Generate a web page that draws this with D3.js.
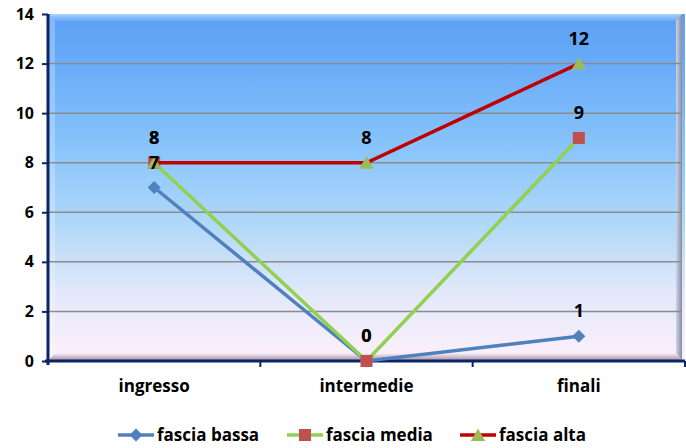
<!DOCTYPE html>
<html><head><meta charset="utf-8">
<script src="https://cdn.jsdelivr.net/npm/d3@7/dist/d3.min.js"></script>
<style>body{margin:0;background:#fff}svg{display:block}text{font-family:"Open Sans",sans-serif;font-weight:bold}</style>
</head><body><svg id="c" width="686" height="448"></svg>
<script>
const categories = ["ingresso","intermedie","finali"];
const seriesNames = ["fascia bassa","fascia media","fascia alta"];
const bassa = [7,0,1];
const media = [8,0,9];
const alta = [8,8,12];
const yTicks = [0,2,4,6,8,10,12,14];

const series = [
  {name: seriesNames[0], values: bassa, line:"#4f81bd", marker:"diamond", mfill:"#4f81bd"},
  {name: seriesNames[1], values: media, line:"#92d050", marker:"square", mfill:"#c0504d"},
  {name: seriesNames[2], values: alta, line:"#c00000", marker:"triangle", mfill:"#9bbb59"}
];

const svg = d3.select("#c");
const L=48, R=685, T=14, B=361;
const x = d3.scaleBand().domain(categories).range([L,R]);
const y = d3.scaleLinear().domain([0,14]).range([B,T]);

const defs = svg.append("defs");
const g1 = defs.append("linearGradient").attr("id","bg").attr("x1",0).attr("y1",0).attr("x2",0).attr("y2",1);
[[0,"#5e9ff2"],[0.12,"#66a9f8"],[0.4,"#8ac6fb"],[0.62,"#b4d9f8"],[0.8,"#e2e8fa"],[1,"#fdf0fb"]].forEach(s=>g1.append("stop").attr("offset",s[0]).attr("stop-color",s[1]));
const gb = defs.append("linearGradient").attr("id","bb").attr("x1",0).attr("y1",0).attr("x2",0).attr("y2",1);
[[0,"#fdf0fb"],[1,"#9c8a9c"]].forEach(s=>gb.append("stop").attr("offset",s[0]).attr("stop-color",s[1]));
const gr = defs.append("linearGradient").attr("id","br").attr("x1",0).attr("y1",0).attr("x2",1).attr("y2",0);
[[0,"#c8d4ee"],[1,"#8a8c9c"]].forEach(s=>gr.append("stop").attr("offset",s[0]).attr("stop-color",s[1]));
const gt = defs.append("linearGradient").attr("id","bt").attr("x1",0).attr("y1",0).attr("x2",0).attr("y2",1);
[[0,"#a8d2fb"],[1,"#68aaf6"]].forEach(s=>gt.append("stop").attr("offset",s[0]).attr("stop-color",s[1]));

svg.append("rect").attr("x",L).attr("y",T).attr("width",R-L).attr("height",B-T).attr("fill","url(#bg)");
// bevel
svg.append("path").attr("d",`M${L},${T}L${R-3},${T}L${R-9},${T+7}L${L+7},${T+7}Z`).attr("fill","url(#bt)");
svg.append("path").attr("d",`M${L},${B}L${R-3},${B}L${R-9},${B-8}L${L+7},${B-8}Z`).attr("fill","url(#bb)");
svg.append("path").attr("d",`M${R-3},${T}L${R-3},${B}L${R-9},${B-8}L${R-9},${T+7}Z`).attr("fill","url(#br)");
svg.append("path").attr("d",`M${L},${T}L${L+7},${T+7}L${L+7},${B-8}L${L},${B}Z`).attr("fill","#ffffff").attr("opacity",0.25);

// gridlines
svg.append("g").selectAll("line").data(yTicks.filter(d=>d>0&&d<14)).join("line")
  .attr("x1",L).attr("x2",R-4).attr("y1",d=>y(d)).attr("y2",d=>y(d))
  .attr("stroke","#8c8c8c").attr("stroke-width",1.5);

// axes
const yAxis = d3.axisLeft(y).tickValues(yTicks).tickSize(6).tickPadding(8);
const ya = svg.append("g").attr("transform",`translate(${L},0)`).call(yAxis);
ya.select(".domain").attr("stroke","#0b2466").attr("stroke-width",3).attr("d",`M0,${T}V${B+4}`);
ya.selectAll(".tick line").attr("stroke","#0b2466").attr("stroke-width",2);
ya.selectAll(".tick text").attr("font-size",16).attr("fill","#000").attr("font-family","'Open Sans',sans-serif").attr("font-weight","bold");

const xa = svg.append("g").attr("transform",`translate(0,${B})`);
xa.append("line").attr("x1",L-3).attr("x2",R).attr("y1",0).attr("y2",0).attr("stroke","#0b2466").attr("stroke-width",3);
const bounds = categories.map(c=>x(c)).concat([x(categories[categories.length-1])+x.bandwidth()]);
xa.selectAll("line.t").data(bounds.slice(1)).join("line").attr("class","t")
  .attr("x1",d=>d).attr("x2",d=>d).attr("y1",0).attr("y2",6).attr("stroke","#0b2466").attr("stroke-width",2);
xa.selectAll("text").data(categories).join("text")
  .attr("x",d=>x(d)+x.bandwidth()/2).attr("y",31).attr("text-anchor","middle")
  .attr("font-size",17).attr("fill","#000").text(d=>d);

const cx = c=>x(c)+x.bandwidth()/2;
const line = d3.line().x((d,i)=>cx(categories[i])).y(d=>y(d));

function marker(sel, type, fill, sz){
  if(type==="diamond") sel.append("path").attr("d",`M0,${-sz/2}L${sz/2},0L0,${sz/2}L${-sz/2},0Z`).attr("fill",fill);
  if(type==="square") sel.append("rect").attr("x",-sz/2).attr("y",-sz/2).attr("width",sz).attr("height",sz).attr("fill",fill);
  if(type==="triangle") sel.append("path").attr("d",`M0,${-sz*0.55}L${sz*0.6},${sz*0.5}L${-sz*0.6},${sz*0.5}Z`).attr("fill",fill);
}

series.forEach(s=>{
  svg.append("path").datum(s.values).attr("d",line).attr("fill","none").attr("stroke",s.line).attr("stroke-width",3.5);
  s.values.forEach((v,i)=>{
    const g = svg.append("g").attr("transform",`translate(${cx(categories[i])},${y(v)})`);
    marker(g, s.marker, s.mfill, s.marker==="diamond"?13:12);
  });
});
series.forEach(s=>{
  s.values.forEach((v,i)=>{
    svg.append("text").attr("x",cx(categories[i])).attr("y",y(v)-19).attr("text-anchor","middle")
      .attr("font-size",18).attr("fill","#000").text(v);
  });
});

// legend
const lx = [118, 287, 460];
series.forEach((s,i)=>{
  const g = svg.append("g").attr("transform",`translate(${lx[i]},435)`);
  g.append("line").attr("x1",0).attr("x2",36).attr("y1",0).attr("y2",0).attr("stroke",s.line).attr("stroke-width",3.5);
  const m = g.append("g").attr("transform","translate(18,0)");
  marker(m, s.marker, s.mfill, s.marker==="diamond"?13:12);
  g.append("text").attr("x",39).attr("y",6).attr("font-size",17).attr("fill","#000").text(s.name);
});
</script></body></html>
